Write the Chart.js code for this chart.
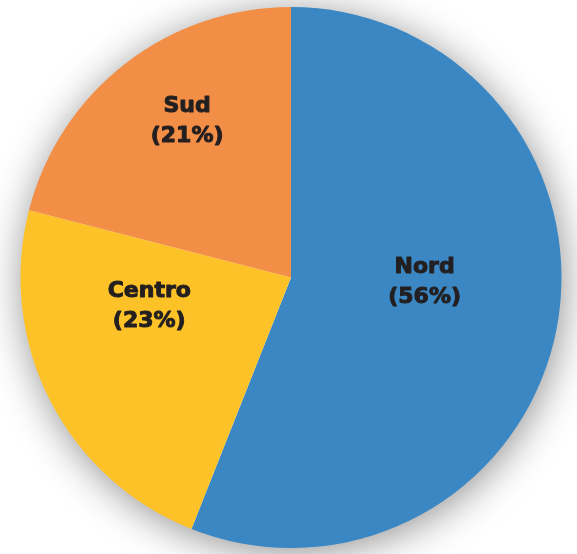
<!DOCTYPE html>
<html>
<head>
    <title>Nord Centro Sud</title>
    <script src="https://cdn.jsdelivr.net/npm/chart.js"></script>
    <style>
        body {
            margin: 0;
            padding: 0;
            overflow: hidden;
            background-color: #ffffff;
        }
        #chart-container {
            position: fixed;
            top: 0;
            left: 0;
            width: 577px;
            height: 554px;
        }
    </style>
</head>
<body>
    <div id="chart-container">
        <canvas id="myChart"></canvas>
    </div>

    <script>
        const areas = ['Nord', 'Centro', 'Sud'];
        const shares = [56, 23, 21];
        const sliceColors = ['#3a87c3', '#fdc227', '#f28e45'];

        // label centres, as fractions of the radius from the pie centre
        const labelOffsets = [[0.494, 0.018], [-0.524, 0.107], [-0.384, -0.579]];

        const shadowPlugin = {
            id: 'pieShadow',
            beforeDatasetsDraw(chart) {
                const arc = chart.getDatasetMeta(0).data[0];
                if (!arc) return;
                const c = chart.ctx;
                c.save();
                c.shadowColor = 'rgba(0, 0, 0, 0.45)';
                c.shadowBlur = 40;
                c.shadowOffsetX = 2;
                c.shadowOffsetY = 5;
                c.fillStyle = '#ffffff';
                c.beginPath();
                c.arc(arc.x, arc.y, arc.outerRadius - 1, 0, Math.PI * 2);
                c.fill();
                c.restore();
            }
        };

        const labelPlugin = {
            id: 'sliceLabels',
            afterDatasetsDraw(chart) {
                const meta = chart.getDatasetMeta(0);
                const c = chart.ctx;
                c.save();
                c.fillStyle = '#231f20';
                c.strokeStyle = '#231f20';
                c.lineWidth = 1;
                c.lineJoin = 'round';
                c.font = "bold 22px 'DejaVu Sans', sans-serif";
                c.textAlign = 'center';
                c.textBaseline = 'middle';
                meta.data.forEach((arc, i) => {
                    const r = arc.outerRadius;
                    const x = arc.x + labelOffsets[i][0] * r;
                    const y = arc.y + labelOffsets[i][1] * r;
                    const lines = [areas[i], '(' + shares[i] + '%)'];
                    lines.forEach((t, k) => {
                        const ly = y + (k === 0 ? -15 : 15);
                        c.strokeText(t, x, ly);
                        c.fillText(t, x, ly);
                    });
                });
                c.restore();
            }
        };

        new Chart(document.getElementById('myChart'), {
            type: 'pie',
            data: {
                labels: areas,
                datasets: [{
                    data: shares,
                    backgroundColor: sliceColors,
                    borderWidth: 0
                }]
            },
            options: {
                responsive: true,
                maintainAspectRatio: false,
                animation: false,
                layout: {
                    padding: { top: 7, bottom: 6, left: 20, right: 15 }
                },
                plugins: {
                    legend: { display: false },
                    tooltip: { enabled: false }
                }
            },
            plugins: [shadowPlugin, labelPlugin]
        });
    </script>
</body>
</html>
